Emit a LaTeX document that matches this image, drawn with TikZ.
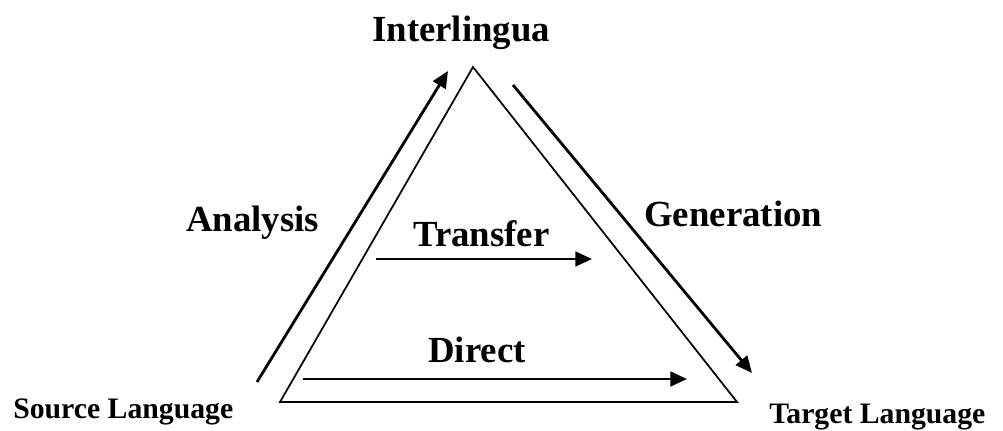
\documentclass[tikz,border=0pt]{standalone}
\usepackage{fontspec}
\setmainfont{Liberation Serif}
\usetikzlibrary{arrows.meta}
\begin{document}
\begin{tikzpicture}[x=0.75pt,y=-0.75pt,
  lbl/.style={font=\fontsize{27.6}{30}\selectfont\bfseries, inner sep=0pt, anchor=base west},
  smalllbl/.style={font=\fontsize{22.3}{25}\selectfont\bfseries, inner sep=0pt, anchor=base west},
  tri/.style={draw=black, line width=1.3pt, line join=miter},
  arr/.style={draw=black, line width=2.1pt, -{Triangle[length=12.5pt,width=11pt]}}]
\useasboundingbox (0,0) rectangle (1003,431);
% triangle corners
\coordinate (L) at (280,402);
\coordinate (T) at (473,67);
\coordinate (R) at (737,402);
\draw[tri] (L) -- (T) -- (R) -- cycle;
% arrow ends
\coordinate (a1) at (257,382);
\coordinate (a2) at (448,71);
\coordinate (g1) at (513,85);
\coordinate (g2) at (752,373);
\coordinate (t1) at (376,259);
\coordinate (t2) at (592,259);
\coordinate (d1) at (303,379);
\coordinate (d2) at (687,379);
\draw[arr] (a1) -- (a2);
\draw[arr] (g1) -- (g2);
\draw[arr] (t1) -- (t2);
\draw[arr] (d1) -- (d2);
% labels
\node[lbl] (inter) at (372,42) {Interlingua};
\node[lbl] (anal) at (186,232) {Analysis};
\node[lbl] (gen) at (644,226) {Generation};
\node[lbl] (trans) at (413,247) {Transfer};
\node[lbl] (dir) at (428,362) {Direct};
\node[smalllbl] (src) at (13,418) {Source Language};
\node[smalllbl] (tgt) at (769,423) {Target Language};
\end{tikzpicture}
\end{document}
